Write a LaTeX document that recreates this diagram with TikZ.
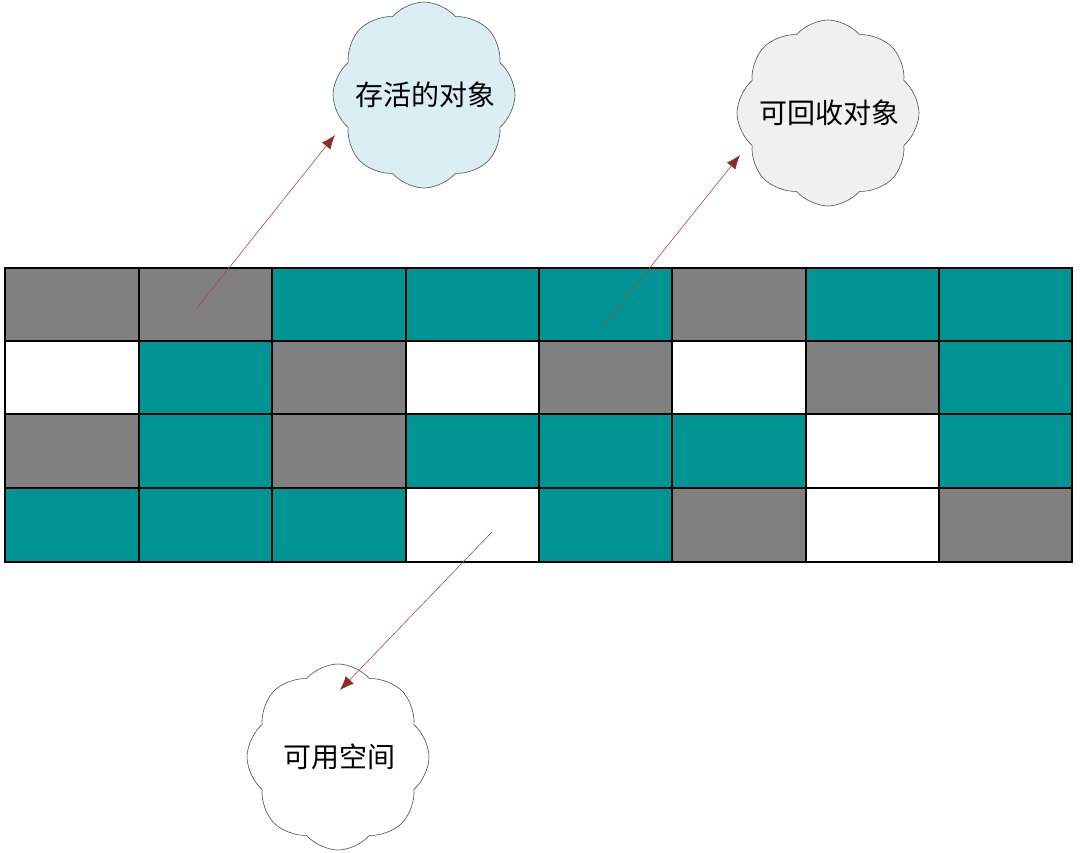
\documentclass[tikz,border=0pt]{standalone}
\usepackage{fontspec}
\newfontfamily\cjk{Noto Sans CJK SC}
\usetikzlibrary{shapes.symbols,arrows.meta}
\definecolor{tealc}{RGB}{0,148,148}
\definecolor{grayc}{RGB}{128,128,128}
\definecolor{cloudblue}{RGB}{218,238,243}
\definecolor{cloudgray}{RGB}{240,240,240}
\definecolor{arrowc}{RGB}{160,80,70}
\definecolor{tipc}{RGB}{140,45,40}
\tikzset{
  cellbox/.style={draw=black,line width=1.6pt},
  cloudbox/.style={cloud,draw=black!70,line width=0.6pt,cloud puffs=8,cloud puff arc=100,aspect=1,minimum width=182pt,minimum height=186pt,inner sep=0pt},
  cloudtext/.style={font=\cjk\fontsize{28pt}{31pt}\selectfont,inner sep=0pt},
  ptr/.style={draw=arrowc,line width=0.6pt,-{Latex[length=14pt,width=11pt,color=tipc]}}
}
\begin{document}
\begin{tikzpicture}[x=1pt,y=-1pt]
\useasboundingbox (0,0) rectangle (1080,853);
\def\xs{{5,139,272,406,539,672,806,939,1072}}
\def\ys{{268,341,414,488,562}}
\foreach \r/\cols in {0/{grayc,grayc,tealc,tealc,tealc,grayc,tealc,tealc},
                      1/{white,tealc,grayc,white,grayc,white,grayc,tealc},
                      2/{grayc,tealc,grayc,tealc,tealc,tealc,white,tealc},
                      3/{tealc,tealc,tealc,white,tealc,grayc,white,grayc}}{
  \foreach \col [count=\c from 0] in \cols {
    \pgfmathsetmacro\xa{\xs[\c]}
    \pgfmathsetmacro\xb{\xs[\c+1]}
    \pgfmathsetmacro\ya{\ys[\r]}
    \pgfmathsetmacro\yb{\ys[\r+1]}
    \path[cellbox,fill=\col] (\xa,\ya) rectangle (\xb,\yb);
  }
}
\node[cloudbox,fill=cloudblue,shape border rotate=10] (live) at (424,95) {};
\node[cloudtext] (livet) at (425,95) {存活的对象};
\node[cloudbox,fill=cloudgray,shape border rotate=10] (dead) at (828,113) {};
\node[cloudtext] (deadt) at (829,113) {可回收对象};
\node[cloudbox,fill=white] (free) at (338,757) {};
\node[cloudtext] (freet) at (339,757) {可用空间};
\coordinate (s1) at (197,308);
\coordinate (e1) at (335,135);
\coordinate (s2) at (600,330);
\coordinate (e2) at (740,155);
\coordinate (s3) at (492,532);
\coordinate (e3) at (340,690);
\draw[ptr] (s1) -- (e1);
\draw[ptr] (s2) -- (e2);
\draw[ptr] (s3) -- (e3);
\end{tikzpicture}
\end{document}
